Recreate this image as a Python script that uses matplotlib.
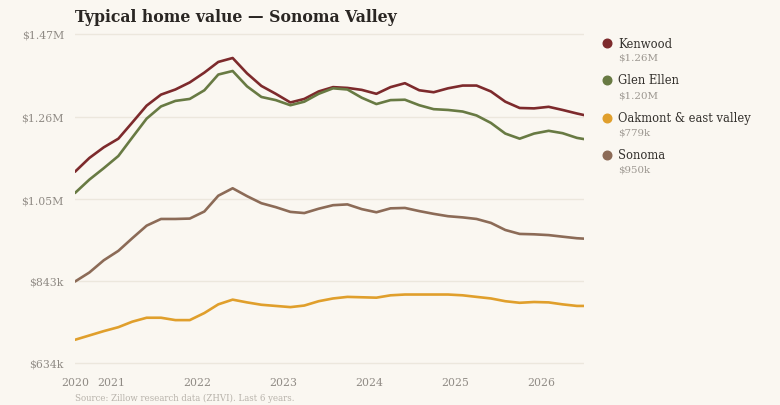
import matplotlib
matplotlib.use("Agg")
import matplotlib.pyplot as plt
import pandas as pd

dates = ["2020-08", "2020-10", "2020-12", "2021-02", "2021-04", "2021-06", "2021-08", "2021-10", "2021-12",
         "2022-02", "2022-04", "2022-06", "2022-08", "2022-10", "2022-12", "2023-02", "2023-04", "2023-06",
         "2023-08", "2023-10", "2023-12", "2024-02", "2024-04", "2024-06", "2024-08", "2024-10", "2024-12",
         "2025-02", "2025-04", "2025-06", "2025-08", "2025-10", "2025-12", "2026-02", "2026-04", "2026-06",
         "2026-07"]

kenwood = [1120, 1155, 1182, 1204, 1245, 1288, 1316, 1329, 1347, 1372, 1399, 1409, 1370, 1338, 1318, 1296,
           1305, 1324, 1335, 1333, 1328, 1318, 1335, 1345, 1327, 1322, 1332, 1339, 1339, 1324, 1298, 1282,
           1281, 1285, 1277, 1268, 1264]
glen_ellen = [1066, 1100, 1129, 1160, 1207, 1255, 1286, 1300, 1305, 1327, 1367, 1376, 1337, 1310, 1302, 1289,
              1298, 1318, 1332, 1329, 1308, 1292, 1302, 1303, 1289, 1279, 1277, 1273, 1263, 1244, 1217, 1204,
              1217, 1224, 1218, 1206, 1203]
oakmont = [693, 704, 715, 725, 739, 749, 749, 743, 743, 761, 783, 795, 788, 782, 779, 776, 780, 791, 798, 802,
           801, 800, 806, 808, 808, 808, 808, 806, 802, 798, 791, 787, 789, 788, 783, 779, 779]
sonoma = [841, 864, 895, 919, 951, 983, 1000, 1000, 1001, 1019, 1059, 1078, 1058, 1040, 1030, 1018, 1015,
          1026, 1035, 1037, 1025, 1017, 1027, 1028, 1020, 1013, 1007, 1004, 1000, 990, 972, 962, 961, 959,
          955, 951, 950]

names = ["Kenwood", "Glen Ellen", "Oakmont & east valley", "Sonoma"]
latest_labels = ["$1.26M", "$1.20M", "$779k", "$950k"]
colors = ["#7d2a2c", "#687a43", "#e09f2c", "#8c6b57"]

y_ticks = [634, 843, 1050, 1260, 1470]
y_tick_labels = ["$634k", "$843k", "$1.05M", "$1.26M", "$1.47M"]
x_tick_labels = ["2020", "2021", "2022", "2023", "2024", "2025", "2026"]
x_tick_dates = ["2020-08", "2021-01", "2022-01", "2023-01", "2024-01", "2025-01", "2026-01"]

BG = "#faf7f1"
W, H = 780, 406

plt.rcParams["font.family"] = ["DejaVu Serif"]
fig = plt.figure(figsize=(W / 100, H / 100), dpi=100, facecolor=BG)

# axes in pixel coordinates: x 75..584, y 30..370
ax_l, ax_r = 75, 584
ax_t, ax_b = 30, 370
ax = fig.add_axes([ax_l / W, 1 - ax_b / H, (ax_r - ax_l) / W, (ax_b - ax_t) / H])
ax.set_facecolor(BG)

x = pd.to_datetime(dates)
series = [kenwood, glen_ellen, oakmont, sonoma]
for vals, c in zip(series, colors):
    ax.plot(x, vals, color=c, lw=1.9, solid_joinstyle="round", solid_capstyle="round", zorder=3)

# y scale: 1470 at px 35, 634 at px 364
per_px = (1470 - 634) / (364 - 35)
ax.set_ylim(634 - (ax_b - 364) * per_px, 1470 + (35 - ax_t) * per_px)
ax.set_xlim(x[0], x[-1])

ax.set_yticks(y_ticks)
ax.set_yticklabels(y_tick_labels)
ax.set_xticks(pd.to_datetime(x_tick_dates))
ax.set_xticklabels(x_tick_labels)
ax.grid(axis="y", color="#ece7dd", lw=1.0, zorder=0)
ax.grid(axis="x", visible=False)
for s in ax.spines.values():
    s.set_visible(False)
ax.tick_params(axis="both", length=0, labelsize=7.8, labelcolor="#8f8a84")
ax.tick_params(axis="y", pad=8)
ax.tick_params(axis="x", pad=6)

# title
fig.text(75 / W, 1 - 17 / H, "Typical home value \u2014 Sonoma Valley", fontsize=11.3,
         fontweight="bold", color="#2a2623", va="center", ha="left")

# source
fig.text(75 / W, 1 - 398 / H, "Source: Zillow research data (ZHVI). Last 6 years.", fontsize=6.2,
         color="#b8b3ab", va="center", ha="left")

# legend
leg_y = [44, 81, 118.5, 156]
for name, lab, c, yy in zip(names, latest_labels, colors, leg_y):
    fig.lines.append(plt.Line2D([606.5 / W], [1 - yy / H], marker="o", markersize=6.2, color=c,
                                linestyle="none", transform=fig.transFigure))
    fig.text(618 / W, 1 - yy / H, name, fontsize=8.3, color="#33302c", va="center", ha="left")
    fig.text(618 / W, 1 - (yy + 14.5) / H, lab, fontsize=7.4, color="#9c9790", va="center", ha="left")

fig.savefig("out.png", dpi=100, facecolor=BG)
